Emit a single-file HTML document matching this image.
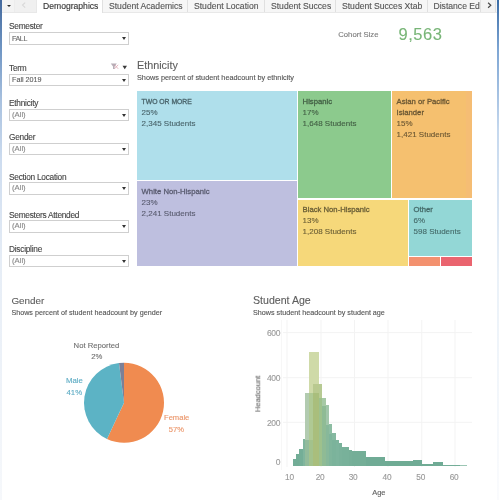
<!DOCTYPE html>
<html><head><meta charset="utf-8">
<style>
*{margin:0;padding:0;box-sizing:border-box}
html,body{width:499px;height:500px;overflow:hidden;background:#fff}body>*{filter:blur(0.3px)}
body{position:relative;font-family:"Liberation Sans",sans-serif;color:#555;-webkit-text-stroke:0.12px}
.a{position:absolute;white-space:nowrap;line-height:1}
#tabs{position:absolute;left:0;top:0;width:499px;height:13px;background:#f6f6f6;border-bottom:1px solid #e8e8e8}
.tab{position:absolute;top:0;height:12px;white-space:nowrap;border-right:1px solid #e0e0e0;font-size:8.6px;color:#555;line-height:12px;padding-left:6px}
.lbl{position:absolute;left:9px;font-size:8.3px;letter-spacing:-0.25px;color:#444;line-height:1}
.dd{position:absolute;left:9px;width:120px;height:12.8px;border:1px solid #cfcfcf;background:#fff;font-size:7.7px;color:#888;line-height:10.4px;padding-left:2px}
.dd:after{content:"";position:absolute;right:2.5px;top:4px;border-left:2.5px solid transparent;border-right:2.5px solid transparent;border-top:3px solid #333}
.cell{position:absolute;padding:5.8px 0 0 4.6px;font-size:8px;line-height:10.95px}
.cell b{font-weight:400;font-size:7.7px;-webkit-text-stroke:0.3px}
</style></head><body>
<div id="tabs">
  <div class="tab" style="left:0;width:15px;background:#f3f3f3;border-right:1px solid #ececec"></div>
  <div style="position:absolute;left:7px;top:4.5px;border-left:2px solid transparent;border-right:2px solid transparent;border-top:2.5px solid #333"></div>
  <div class="tab" style="left:15px;width:22px;background:#f0f0f0;color:#d6d6d6;padding-left:7px;border-right:1px solid #e8e8e8"></div>
  <div class="tab" style="left:37px;width:66px;background:#fff;color:#3a3a3a;height:13px;-webkit-text-stroke:0.15px">Demographics</div>
  <div class="tab" style="left:103px;width:85px">Student Academics</div>
  <div class="tab" style="left:188px;width:77px">Student Location</div>
  <div class="tab" style="left:265px;width:71px">Student Succes</div>
  <div class="tab" style="left:336px;width:92px">Student Succes Xtab</div>
  <div class="tab" style="left:428px;width:53px;overflow:hidden;padding-left:5.5px">Distance Education</div>
  <div class="tab" style="left:481px;width:15px;background:#f3f3f3;color:#555;padding-left:4px"></div>
</div>
<div style="position:absolute;left:0;top:0;width:1.5px;height:500px;background:linear-gradient(#44699d,#7096c4 10%,#a8c1df 20%,#cddcef 32%,#e6edf6 52%,#f6f8fb)"></div>
<div style="position:absolute;left:496.5px;top:0;width:2.5px;height:500px;background:linear-gradient(#3a6ca6,#7ea6d4 10%,#c5d8ee 26%,#eaf1f8 55%,#fafbfd)"></div>

<!-- filters -->
<div class="lbl" style="top:22px">Semester</div>
<div class="dd" style="top:32px;color:#6a6a6a;font-size:7.1px;letter-spacing:-0.4px;line-height:12.6px">FALL</div>
<div class="lbl" style="top:63.5px">Term</div>
<div class="dd" style="top:73.5px;color:#5e5e5e;font-size:7.2px">Fall 2019</div>
<div class="lbl" style="top:99px">Ethnicity</div>
<div class="dd" style="top:108.5px">(All)</div>
<div class="lbl" style="top:132.5px">Gender</div>
<div class="dd" style="top:142.5px">(All)</div>
<div class="lbl" style="top:173px">Section Location</div>
<div class="dd" style="top:182px">(All)</div>
<div class="lbl" style="top:210.5px">Semesters Attended</div>
<div class="dd" style="top:220px">(All)</div>
<div class="lbl" style="top:244.5px">Discipline</div>
<div class="dd" style="top:254.5px">(All)</div>

<!-- cohort -->
<div class="a" style="left:338.3px;top:31.2px;font-size:7.7px;color:#7a7a7a">Cohort Size</div>
<div class="a" style="left:398.5px;top:26px;font-size:16.5px;letter-spacing:0.55px;color:#78b577">9,563</div>

<!-- ethnicity -->
<div class="a" style="left:137px;top:60px;font-size:10.8px;color:#5e5e5e">Ethnicity</div>
<div class="a" style="left:137px;top:74px;font-size:7.3px;color:#555">Shows percent of student headcount by ethnicity</div>
<div class="cell" style="left:137px;top:91px;width:160px;height:89px;background:#afdfeb;color:#4a656c"><b style="font-size:6.8px">TWO OR MORE</b><br>25%<br>2,345 Students</div>
<div class="cell" style="left:137px;top:181px;width:160px;height:85px;background:#bebfdf;color:#5a5c70"><b>White Non-Hispanic</b><br>23%<br>2,241 Students</div>
<div class="cell" style="left:298px;top:91px;width:93px;height:107px;background:#8cca8d;color:#436045"><b>Hispanic</b><br>17%<br>1,648 Students</div>
<div class="cell" style="left:392px;top:91px;width:80px;height:107px;background:#f5c06f;color:#6b5733"><b>Asian or Pacific<br>Islander</b><br>15%<br>1,421 Students</div>
<div class="cell" style="left:298px;top:199.5px;width:110px;height:66.5px;background:#f6d87a;color:#6b5f36"><b>Black Non-Hispanic</b><br>13%<br>1,208 Students</div>
<div class="cell" style="left:409px;top:199.5px;width:63px;height:56.5px;background:#93d7d6;color:#456b6a"><b>Other</b><br>6%<br>598 Students</div>
<div style="position:absolute;left:409px;top:256.5px;width:31px;height:9.5px;background:#f3916f"></div>
<div style="position:absolute;left:441px;top:256.5px;width:31px;height:9.5px;background:#ea646f"></div>
<div style="position:absolute;left:466px;top:91px;width:6px;height:107px;background:#f6bd76;opacity:.8"></div>

<!-- gender -->
<div class="a" style="left:11.4px;top:296px;font-size:9.9px;color:#5e5e5e">Gender</div>
<div class="a" style="left:11.4px;top:309px;font-size:7.2px;color:#555">Shows percent of student headcount by gender</div>
<svg style="position:absolute;left:0;top:0" width="499" height="500"><path d="M25.2,2.6L22.5,5.1L25.2,7.6" stroke="#d8d8d8" stroke-width="1.1" fill="none"/>
<path d="M488.1,2.7L490.8,5.2L488.1,7.7" stroke="#4a4a4a" stroke-width="1.2" fill="none"/>
<path d="M110.8,63.6L116.8,63.6L114.6,66.4L114.6,69L113,69L113,66.4Z" fill="#9a8c98" opacity="0.7"/>
<path d="M114.5,64.8L118.2,68.8M118.2,64.8L114.5,68.8" stroke="#d08090" stroke-width="0.8" opacity="0.7"/>
<path d="M122.5,65.8L127,65.8L124.75,69.2Z" fill="#3a3a3a"/>
<path d="M124,402.8L124.00,362.80A40,40 0 1 1 106.97,438.99Z" fill="#f08b50"/>
<path d="M124,402.8L106.97,438.99A40,40 0 0 1 118.99,363.12Z" fill="#5cb3c5"/>
<path d="M124,402.8L118.99,363.12A40,40 0 0 1 124.00,362.80Z" fill="#7c8097"/>
<line x1="283" y1="332.6" x2="472" y2="332.6" stroke="#f3f3f3" stroke-width="1"/>
<line x1="283" y1="377.7" x2="472" y2="377.7" stroke="#f3f3f3" stroke-width="1"/>
<line x1="283" y1="422.3" x2="472" y2="422.3" stroke="#f3f3f3" stroke-width="1"/>
<line x1="281.5" y1="320" x2="281.5" y2="470" stroke="#f7f7f7" stroke-width="1"/>
<line x1="287" y1="320" x2="287" y2="467" stroke="#f3f3f3" stroke-width="1"/>
<line x1="321" y1="320" x2="321" y2="467" stroke="#f3f3f3" stroke-width="1"/>
<line x1="354.5" y1="320" x2="354.5" y2="467" stroke="#f3f3f3" stroke-width="1"/>
<line x1="388" y1="320" x2="388" y2="467" stroke="#f3f3f3" stroke-width="1"/>
<line x1="421.8" y1="320" x2="421.8" y2="467" stroke="#f3f3f3" stroke-width="1"/>
<line x1="455" y1="320" x2="455" y2="467" stroke="#f3f3f3" stroke-width="1"/>
<rect x="292.8" y="458.5" width="3.60" height="7.80" fill="#73ad97" shape-rendering="crispEdges"/>
<rect x="296.4" y="453.6" width="3.00" height="12.70" fill="#72ad96" shape-rendering="crispEdges"/>
<rect x="299.4" y="448.8" width="3.60" height="17.50" fill="#74ae97" shape-rendering="crispEdges"/>
<rect x="303" y="439.2" width="1.60" height="27.10" fill="#80b59d" shape-rendering="crispEdges"/>
<rect x="304.6" y="393" width="4.40" height="47.00" fill="#b2cbb0" shape-rendering="crispEdges"/>
<rect x="304.6" y="440" width="4.40" height="26.30" fill="#92bb9b" shape-rendering="crispEdges"/>
<rect x="309" y="351.7" width="3.80" height="41.30" fill="#cfdaa8" shape-rendering="crispEdges"/>
<rect x="309" y="393" width="3.80" height="47.00" fill="#afc994" shape-rendering="crispEdges"/>
<rect x="309" y="440" width="3.80" height="26.30" fill="#a3c28c" shape-rendering="crispEdges"/>
<rect x="312.8" y="351.7" width="6.20" height="32.30" fill="#cfdaa8" shape-rendering="crispEdges"/>
<rect x="312.8" y="384" width="6.20" height="9.00" fill="#b9c98f" shape-rendering="crispEdges"/>
<rect x="312.8" y="393" width="6.20" height="73.30" fill="#a9be7c" shape-rendering="crispEdges"/>
<rect x="319" y="384" width="3.30" height="14.00" fill="#b7ca93" shape-rendering="crispEdges"/>
<rect x="319" y="398" width="3.30" height="68.30" fill="#9ec18c" shape-rendering="crispEdges"/>
<rect x="322.3" y="398.2" width="3.40" height="7.80" fill="#a7c9a6" shape-rendering="crispEdges"/>
<rect x="322.3" y="406" width="3.40" height="60.30" fill="#8fbb95" shape-rendering="crispEdges"/>
<rect x="325.7" y="405.4" width="3.40" height="19.60" fill="#a2c6ab" shape-rendering="crispEdges"/>
<rect x="325.7" y="425" width="3.40" height="41.30" fill="#87b89a" shape-rendering="crispEdges"/>
<rect x="329.1" y="424.4" width="3.30" height="9.60" fill="#8dbda3" shape-rendering="crispEdges"/>
<rect x="329.1" y="434" width="3.30" height="32.30" fill="#7fb59c" shape-rendering="crispEdges"/>
<rect x="332.4" y="433.2" width="3.40" height="6.80" fill="#86b9a1" shape-rendering="crispEdges"/>
<rect x="332.4" y="440" width="3.40" height="26.30" fill="#7bb39b" shape-rendering="crispEdges"/>
<rect x="335.8" y="439.8" width="3.20" height="26.50" fill="#7db49d" shape-rendering="crispEdges"/>
<rect x="339" y="442.8" width="3.00" height="23.50" fill="#7ab29b" shape-rendering="crispEdges"/>
<rect x="342" y="447" width="7.00" height="19.30" fill="#78b19a" shape-rendering="crispEdges"/>
<rect x="349" y="449.5" width="3.00" height="16.80" fill="#76af98" shape-rendering="crispEdges"/>
<rect x="352" y="450.5" width="14.00" height="15.80" fill="#74ae97" shape-rendering="crispEdges"/>
<rect x="366" y="457.3" width="19.00" height="9.00" fill="#70ab95" shape-rendering="crispEdges"/>
<rect x="385" y="461" width="28.00" height="5.30" fill="#6fab94" shape-rendering="crispEdges"/>
<rect x="413" y="460.3" width="9.00" height="6.00" fill="#70ab95" shape-rendering="crispEdges"/>
<rect x="422" y="463.8" width="11.00" height="2.50" fill="#6fab94" shape-rendering="crispEdges"/>
<rect x="433" y="462.2" width="10.00" height="4.10" fill="#70ab95" shape-rendering="crispEdges"/>
<rect x="443" y="464.6" width="17.00" height="1.70" fill="#74ae98" shape-rendering="crispEdges"/>
<rect x="460" y="464.8" width="6.50" height="1.50" fill="#9cc6b4" shape-rendering="crispEdges"/>
</svg>

<!-- age -->
<div class="a" style="left:253px;top:294.5px;font-size:10.6px;color:#5e5e5e">Student Age</div>
<div class="a" style="left:253px;top:309px;font-size:7.2px;color:#555">Shows student headcount by student age</div>

<div class="a" style="left:73.6px;top:341.8px;font-size:7.7px;color:#707070">Not Reported</div>
<div class="a" style="left:91.2px;top:352.5px;font-size:7.7px;color:#707070">2%</div>
<div class="a" style="left:66px;top:377px;font-size:7.8px;color:#5eacc4">Male</div>
<div class="a" style="left:66.5px;top:388.5px;font-size:7.8px;color:#5eacc4">41%</div>
<div class="a" style="left:164px;top:414px;font-size:7.6px;color:#ea9468">Female</div>
<div class="a" style="left:168.8px;top:425.5px;font-size:7.6px;color:#ea9468">57%</div>

<div class="a" style="left:230px;width:50.2px;text-align:right;top:328.9px;font-size:8.5px;letter-spacing:-0.3px;color:#9a9a9a">600</div>
<div class="a" style="left:230px;width:50.2px;text-align:right;top:373.9px;font-size:8.5px;letter-spacing:-0.3px;color:#9a9a9a">400</div>
<div class="a" style="left:230px;width:50.2px;text-align:right;top:418.5px;font-size:8.5px;letter-spacing:-0.3px;color:#9a9a9a">200</div>
<div class="a" style="left:230px;width:50.2px;text-align:right;top:458.1px;font-size:8.5px;letter-spacing:-0.3px;color:#9a9a9a">0</div>
<div class="a" style="left:274.4px;width:30px;text-align:center;top:473.2px;font-size:8.3px;letter-spacing:-0.2px;color:#999">10</div>
<div class="a" style="left:305.1px;width:30px;text-align:center;top:473.2px;font-size:8.3px;letter-spacing:-0.2px;color:#999">20</div>
<div class="a" style="left:338.1px;width:30px;text-align:center;top:473.2px;font-size:8.3px;letter-spacing:-0.2px;color:#999">30</div>
<div class="a" style="left:372.0px;width:30px;text-align:center;top:473.2px;font-size:8.3px;letter-spacing:-0.2px;color:#999">40</div>
<div class="a" style="left:405.7px;width:30px;text-align:center;top:473.2px;font-size:8.3px;letter-spacing:-0.2px;color:#999">50</div>
<div class="a" style="left:439.1px;width:30px;text-align:center;top:473.2px;font-size:8.3px;letter-spacing:-0.2px;color:#999">60</div>
<div class="a" style="left:372.2px;top:488.5px;font-size:7.5px;color:#606060">Age</div>
<div class="a" style="left:238.5px;top:390px;font-size:7.5px;color:#666;transform:rotate(-90deg);transform-origin:center;width:38px;text-align:center">Headcount</div>
</body></html>
